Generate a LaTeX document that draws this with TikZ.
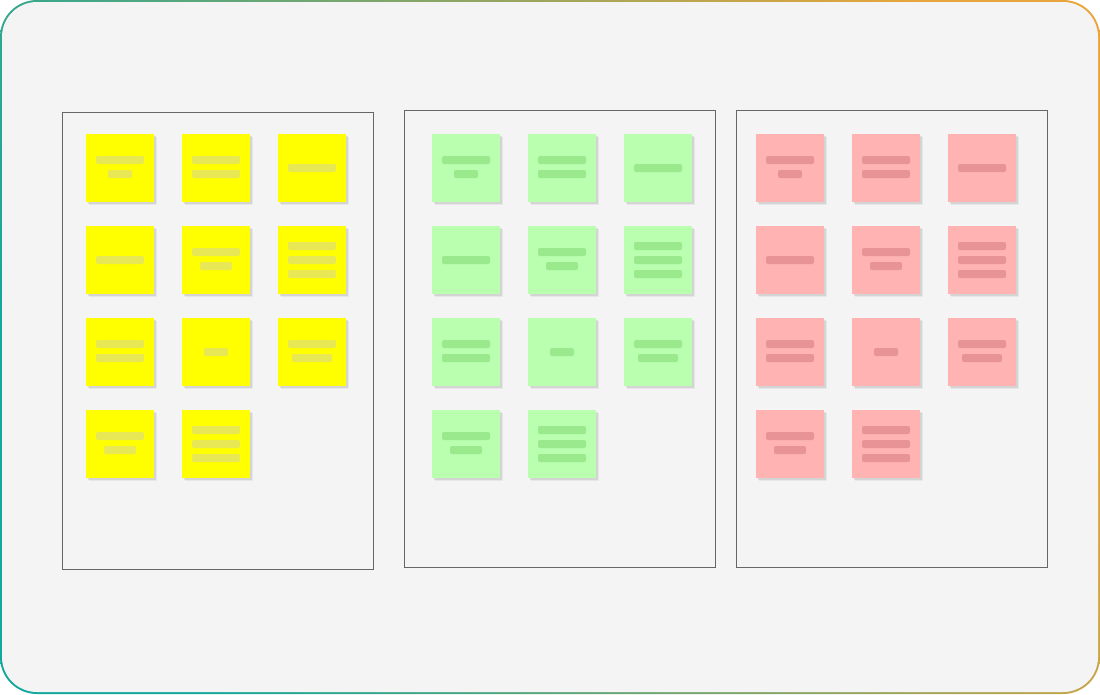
\documentclass[tikz,border=0pt]{standalone}
\usetikzlibrary{shadows,calc}
\definecolor{bgc}{HTML}{F4F4F4}
\definecolor{tealc}{HTML}{12A89D}
\definecolor{orangec}{HTML}{E8A53B}
\definecolor{panelc}{HTML}{666666}
\definecolor{yNote}{HTML}{FFFF00}
\definecolor{yBar}{HTML}{E8E856}
\definecolor{gNote}{HTML}{BAFFAF}
\definecolor{gBar}{HTML}{9AE98C}
\definecolor{rNote}{HTML}{FFB3B3}
\definecolor{rBar}{HTML}{E89497}
\tikzset{
  panel/.style={rectangle, draw=panelc, line width=1pt, fill=bgc, inner sep=0pt, outer sep=0pt,
    minimum width=311pt, minimum height=457pt, anchor=north west},
  sticky/.style={rectangle, minimum width=68pt, minimum height=68pt, inner sep=0pt, outer sep=0pt,
    anchor=north west,
    drop shadow={shadow xshift=2.5pt, shadow yshift=-2.5pt, opacity=0.05, fill=black},
    drop shadow={shadow xshift=1.5pt, shadow yshift=-1.5pt, opacity=0.08, fill=black}},
  stickybar/.style={rectangle, rounded corners=2pt, minimum height=8pt, inner sep=0pt, outer sep=0pt},
}
% #1 name prefix, #2 left x of first column, #3 note colour, #4 bar colour
\newcommand\stickygroup[4]{%
  \foreach \c/\r/\bars [count=\i] in {0/0/{48/-8,24/6}, 1/0/{48/-8,48/6}, 2/0/{48/0},
      0/1/{48/0}, 1/1/{48/-8,32/6}, 2/1/{48/-14,48/0,48/14},
      0/2/{48/-8,48/6}, 1/2/{24/0}, 2/2/{48/-8,40/6},
      0/3/{48/-8,32/6}, 1/3/{48/-14,48/0,48/14}}{%
    \node[sticky, fill=#3] (#1n\i) at (#2+96*\c, 134+92*\r) {};
    \foreach \w/\o [count=\j] in \bars {%
      \node[stickybar, fill=#4, minimum width=\w pt] (#1n\i-\j) at ($(#1n\i.center)+(0,\o)$) {};
    }
  }%
}
\begin{document}
\begin{tikzpicture}[x=1pt, y=-1pt]
  \useasboundingbox (0,0) rectangle (1100,694);
  % gradient frame
  \path[rounded corners=37pt, left color=tealc, right color=orangec, shading angle=117]
    (0,0) rectangle (1100,694);
  \fill[bgc, rounded corners=35pt] (2,2) rectangle (1098,692);
  % panels
  \node[panel] (panel1) at (62.5,112.5) {};
  \node[panel] (panel2) at (404.5,110.5) {};
  \node[panel] (panel3) at (736.5,110.5) {};
  % sticky notes
  \stickygroup{y}{86}{yNote}{yBar}
  \stickygroup{g}{432}{gNote}{gBar}
  \stickygroup{r}{756}{rNote}{rBar}
\end{tikzpicture}
\end{document}
